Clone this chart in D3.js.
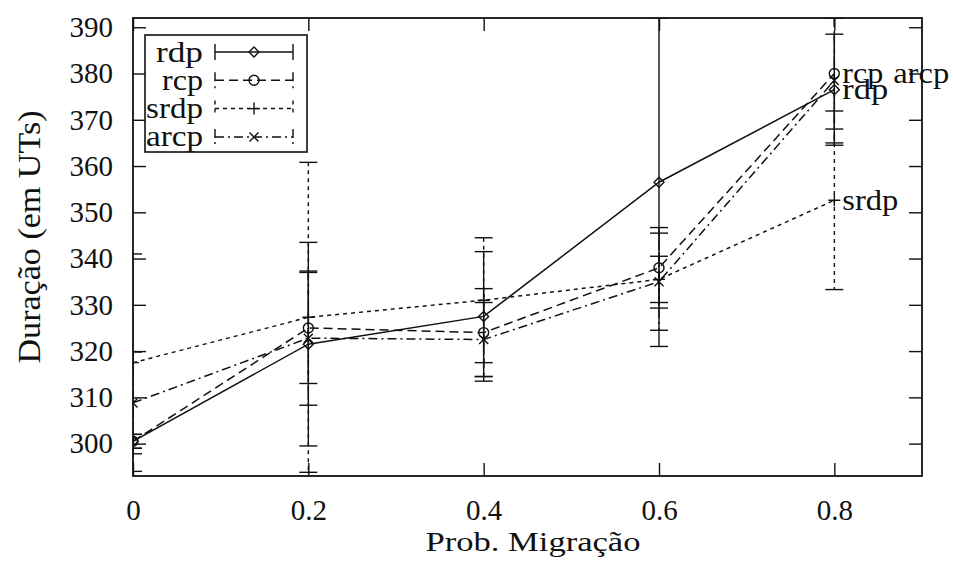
<!DOCTYPE html>
<html>
<head>
<meta charset="utf-8">
<script src="https://cdn.jsdelivr.net/npm/d3@7"></script>
<style>
  html, body { margin: 0; padding: 0; background: #fff; }
  svg { display: block; }
  text { font-family: "Liberation Serif", "DejaVu Serif", serif; fill: #111; }
</style>
</head>
<body>
<svg id="chart" width="953" height="561"></svg>
<script>
// ---- data ----
const xValues = [0, 0.2, 0.4, 0.6, 0.8];
const rdpMean = [300.5, 321.5, 327.5, 356.5, 376.5];
const rdpErr  = [1.5, 22, 14, 35.5, 12];
const rcpMean = [300.5, 325, 324, 338, 380];
const rcpErr  = [1.5, 12, 9.5, 8.7, 12];
const srdpMean = [317.5, 327.3, 331, 335.5, 352.6];
const srdpErr  = [23.5, 33.5, 13.5, 5, 19.3];
const arcpMean = [308.8, 322.8, 322.5, 335, 378.5];
const arcpErr  = [11, 14.5, 8, 10.5, 13.5];
const xTicks = [0, 0.2, 0.4, 0.6, 0.8];
const yTicks = [300, 310, 320, 330, 340, 350, 360, 370, 380, 390];
const xTitle = "Prob. Migração";
const yTitle = "Duração (em UTs)";

const series = [
  { name: "rdp",  mean: rdpMean,  err: rdpErr,  dash: null,      marker: "diamond", labelX: 0.8,   labelY: 376.5, w: 46 },
  { name: "rcp",  mean: rcpMean,  err: rcpErr,  dash: "9,5",     marker: "circle",  labelX: 0.8,   labelY: 380,   w: 41 },
  { name: "srdp", mean: srdpMean, err: srdpErr, dash: "4,4",     marker: "plus",    labelX: 0.8,   labelY: 352.6, w: 56 },
  { name: "arcp", mean: arcpMean, err: arcpErr, dash: "9,4,2,4", marker: "cross",   labelX: 0.858, labelY: 380,   w: 56 }
];
const legendWidths = [47, 41, 57, 57];

// ---- layout ----
const svg = d3.select("#chart");
const L = 133, R = 922, T = 18, B = 476;
const x = d3.scaleLinear().domain([0, 0.9]).range([L, R]);
const y = d3.scaleLinear().domain([293, 392]).range([B, T]);
const fs = 29;
const wfs = 29;

svg.append("defs").append("clipPath").attr("id", "clip")
  .append("rect").attr("x", L).attr("y", T).attr("width", R - L).attr("height", B - T);

function styleAxis(g) {
  g.select(".domain").remove();
  g.selectAll(".tick line").attr("stroke", "#111").attr("stroke-width", 1.4);
  g.selectAll(".tick text").style("font-size", fs + "px").style("font-family", '"Liberation Serif", serif').attr("fill", "#111");
}

svg.append("g").attr("transform", `translate(${L},0)`)
  .call(d3.axisLeft(y).tickValues(yTicks).tickSize(-13).tickPadding(20).tickFormat(d3.format("d")))
  .call(styleAxis);
svg.append("g").attr("transform", `translate(${R},0)`)
  .call(d3.axisRight(y).tickValues(yTicks).tickSize(-13).tickFormat(""))
  .call(styleAxis);
svg.append("g").attr("transform", `translate(0,${B})`)
  .call(d3.axisBottom(x).tickValues(xTicks).tickSize(-13).tickPadding(23).tickFormat(d => d === 0 ? "0" : d3.format(".1f")(d)))
  .call(styleAxis);
svg.append("g").attr("transform", `translate(0,${T})`)
  .call(d3.axisTop(x).tickValues(xTicks).tickSize(-13).tickFormat(""))
  .call(styleAxis);

// frame
svg.append("rect").attr("x", L).attr("y", T).attr("width", R - L).attr("height", B - T)
  .attr("fill", "none").attr("stroke", "#111").attr("stroke-width", 1.8);

// titles
svg.append("text").attr("x", 533).attr("y", 551)
  .attr("text-anchor", "middle").style("font-size", "28px")
  .attr("textLength", 215).attr("lengthAdjust", "spacingAndGlyphs").text(xTitle);
svg.append("text").attr("transform", `translate(40,237) rotate(-90)`)
  .attr("text-anchor", "middle").style("font-size", "32px")
  .attr("textLength", 253).attr("lengthAdjust", "spacingAndGlyphs").text(yTitle);

// markers
function drawMarker(g, type, cx, cy) {
  const s = 5;
  if (type === "diamond") {
    g.append("path").attr("d", `M${cx - s},${cy}L${cx},${cy - s}L${cx + s},${cy}L${cx},${cy + s}Z`)
      .attr("fill", "none").attr("stroke", "#111").attr("stroke-width", 1.4);
  } else if (type === "circle") {
    g.append("circle").attr("cx", cx).attr("cy", cy).attr("r", 5)
      .attr("fill", "none").attr("stroke", "#111").attr("stroke-width", 1.4);
  } else if (type === "plus") {
    g.append("path").attr("d", `M${cx - 6},${cy}H${cx + 6}M${cx},${cy - 6}V${cy + 6}`)
      .attr("stroke", "#111").attr("stroke-width", 1.4);
  } else {
    g.append("path").attr("d", `M${cx - 4.5},${cy - 4.5}L${cx + 4.5},${cy + 4.5}M${cx - 4.5},${cy + 4.5}L${cx + 4.5},${cy - 4.5}`)
      .attr("stroke", "#111").attr("stroke-width", 1.4);
  }
}

const plot = svg.append("g").attr("clip-path", "url(#clip)");
const line = d3.line().x(d => x(d[0])).y(d => y(d[1]));
const cap = 9;

series.forEach(s => {
  const pts = xValues.map((xv, i) => [xv, s.mean[i], s.err[i]]);
  const g = plot.append("g");
  pts.forEach(p => {
    const cx = x(p[0]), y1 = y(p[1] + p[2]), y2 = y(p[1] - p[2]);
    g.append("line").attr("x1", cx).attr("x2", cx).attr("y1", y1).attr("y2", y2)
      .attr("stroke", "#111").attr("stroke-width", 1.4).attr("stroke-dasharray", s.dash);
    [y1, y2].forEach(yy => g.append("line").attr("x1", cx - cap).attr("x2", cx + cap)
      .attr("y1", yy).attr("y2", yy).attr("stroke", "#111").attr("stroke-width", 1.4));
  });
  g.append("path").datum(pts).attr("d", line).attr("fill", "none")
    .attr("stroke", "#111").attr("stroke-width", 1.5).attr("stroke-dasharray", s.dash);
  pts.forEach(p => drawMarker(g, s.marker, x(p[0]), y(p[1])));
  svg.append("text").attr("x", x(s.labelX) + 8).attr("y", y(s.labelY)).attr("dy", "0.33em")
    .style("font-size", wfs + "px")
    .attr("textLength", s.w).attr("lengthAdjust", "spacingAndGlyphs").text(s.name);
});

// legend
const lg = svg.append("g");
lg.append("rect").attr("x", 145).attr("y", 35).attr("width", 162).attr("height", 117)
  .attr("fill", "#fff").attr("stroke", "#111").attr("stroke-width", 1.6);
series.forEach((s, i) => {
  const yy = 52 + i * 28.3;
  lg.append("text").attr("x", 203 - legendWidths[i]).attr("y", yy).attr("dy", "0.33em")
    .style("font-size", wfs + "px")
    .attr("textLength", legendWidths[i]).attr("lengthAdjust", "spacingAndGlyphs").text(s.name);
  lg.append("line").attr("x1", 215).attr("x2", 293).attr("y1", yy).attr("y2", yy)
    .attr("stroke", "#111").attr("stroke-width", 1.5).attr("stroke-dasharray", s.dash);
  [215, 293].forEach(xx => lg.append("line").attr("x1", xx).attr("x2", xx)
    .attr("y1", yy - 8).attr("y2", yy + 8).attr("stroke", "#111").attr("stroke-width", 1.4)
    .attr("stroke-dasharray", s.dash));
  drawMarker(lg, s.marker, 254, yy);
});
</script>
</body>
</html>
